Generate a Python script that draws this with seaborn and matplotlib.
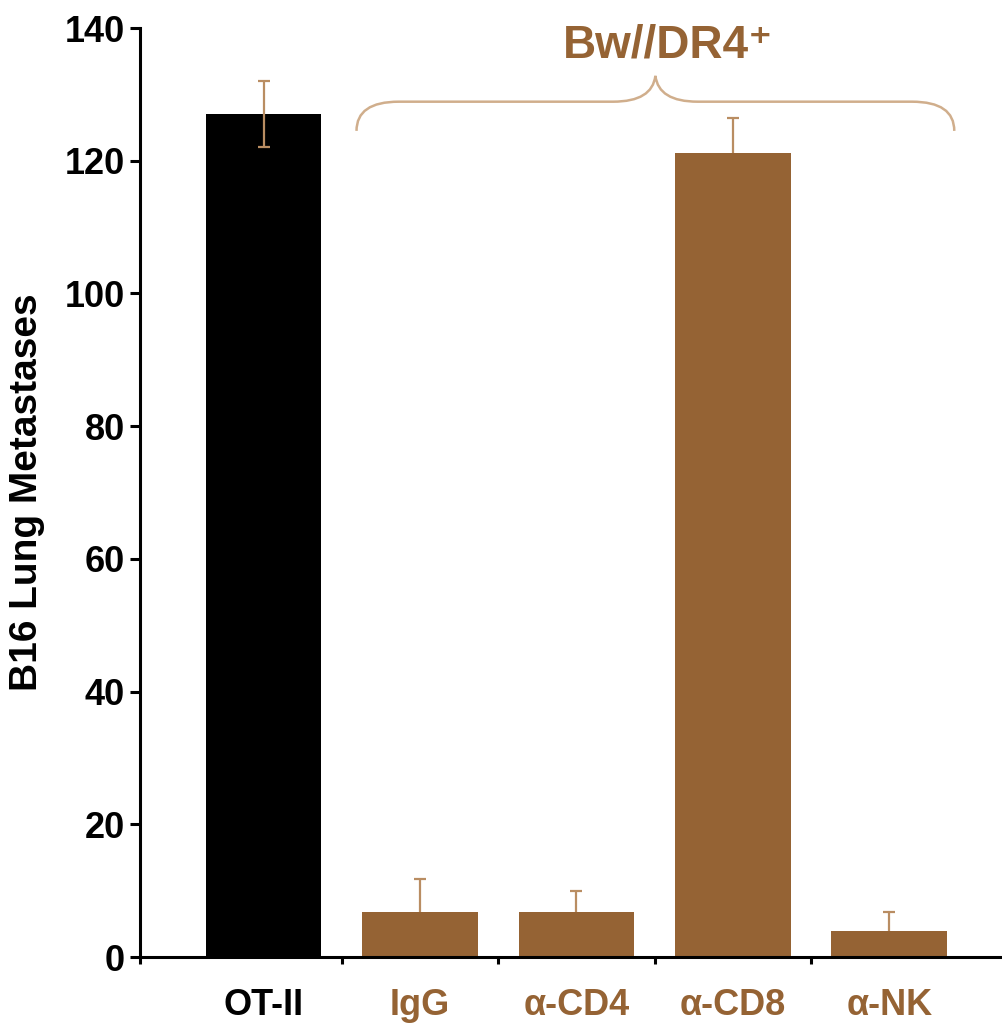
import matplotlib
matplotlib.use("Agg")
import matplotlib.pyplot as plt
from matplotlib.path import Path
from matplotlib.patches import PathPatch
import numpy as np
import pandas as pd
import seaborn as sns

# data
groups = ["OT-II", "IgG", "\u03b1-CD4", "\u03b1-CD8", "\u03b1-NK"]
metastases = [127.0, 6.8, 6.8, 121.2, 3.9]
sem = [5.0, 4.9, 3.1, 5.2, 2.9]
bar_colors = ["#000000", "#956334", "#956334", "#956334", "#956334"]
bracket_label = "Bw//DR4\u207a"

brown = "#956334"
err_color = "#B98D62"
brace_color = "#D0AE8C"

sns.set_theme(style="ticks", rc={"axes.edgecolor": "black", "text.color": "black",
                                 "axes.labelcolor": "black", "xtick.color": "black",
                                 "ytick.color": "black"})
plt.rcParams["font.family"] = ["Liberation Sans", "DejaVu Sans"]
plt.rcParams["font.weight"] = "bold"

df = pd.DataFrame({"group": groups, "value": metastases})

fig = plt.figure(figsize=(10.02, 10.23), dpi=100)
ax = fig.add_axes([0.1397, 0.0645, 0.8603, 0.9081])

sns.barplot(data=df, x="group", y="value", hue="group", palette=bar_colors,
            width=0.74, legend=False, saturation=1, ax=ax, zorder=2,
            linewidth=0, edgecolor="none")

# error bars: black bar gets them on top, brown bars only show the upper half
for i, (v, e, c) in enumerate(zip(metastases, sem, bar_colors)):
    z = 3 if c == "#000000" else 1
    ax.errorbar(i, v, yerr=e, fmt="none", ecolor=err_color, elinewidth=1.6,
                capsize=4.5, capthick=1.6, zorder=z)

ax.set_ylim(0, 140)
ax.set_xlim(-0.79, 4.72)
ax.set_yticks(np.arange(0, 141, 20))
ax.set_ylabel("B16 Lung Metastases", fontsize=28, fontweight="bold", labelpad=14)
ax.set_xlabel("")

for side in ["top", "right"]:
    ax.spines[side].set_visible(False)
ax.spines["left"].set_linewidth(2.2)
ax.spines["bottom"].set_linewidth(2.2)

ax.tick_params(axis="y", labelsize=26, width=2.2, length=7, pad=4)
ax.tick_params(axis="x", which="major", labelsize=26, length=0, pad=22)
ax.set_xticks(np.arange(len(groups)))
ax.set_xticklabels(groups, fontweight="bold")
for lbl, c in zip(ax.get_xticklabels(), bar_colors):
    lbl.set_color(c)
for lbl in ax.get_yticklabels():
    lbl.set_fontweight("bold")
ax.set_xticks([-0.79, 0.5, 1.5, 2.5, 3.5], minor=True)
ax.tick_params(axis="x", which="minor", length=5, width=2.2, direction="out")

# curly brace over the Bw//DR4+ groups
x0, x1 = 0.594, 4.415
xm = (x0 + x1) / 2
yb, yh, yp = 124.5, 128.9, 132.8
r = 0.27
verts = [(x0, yb), (x0, yh), (x0 + r, yh),
         (xm - r, yh), (xm - 0.02, yh), (xm, yp),
         (xm + 0.02, yh), (xm + r, yh),
         (x1 - r, yh), (x1, yh), (x1, yb)]
codes = [Path.MOVETO, Path.CURVE3, Path.CURVE3,
         Path.LINETO, Path.CURVE3, Path.CURVE3,
         Path.CURVE3, Path.CURVE3,
         Path.LINETO, Path.CURVE3, Path.CURVE3]
ax.add_patch(PathPatch(Path(verts, codes), facecolor="none", edgecolor=brace_color,
                       linewidth=1.8, clip_on=False, zorder=4))
ax.text(xm + 0.08, 137.3, bracket_label, ha="center", va="center", fontsize=33,
        fontweight="bold", color=brown)

fig.savefig("out.png", dpi=100)
